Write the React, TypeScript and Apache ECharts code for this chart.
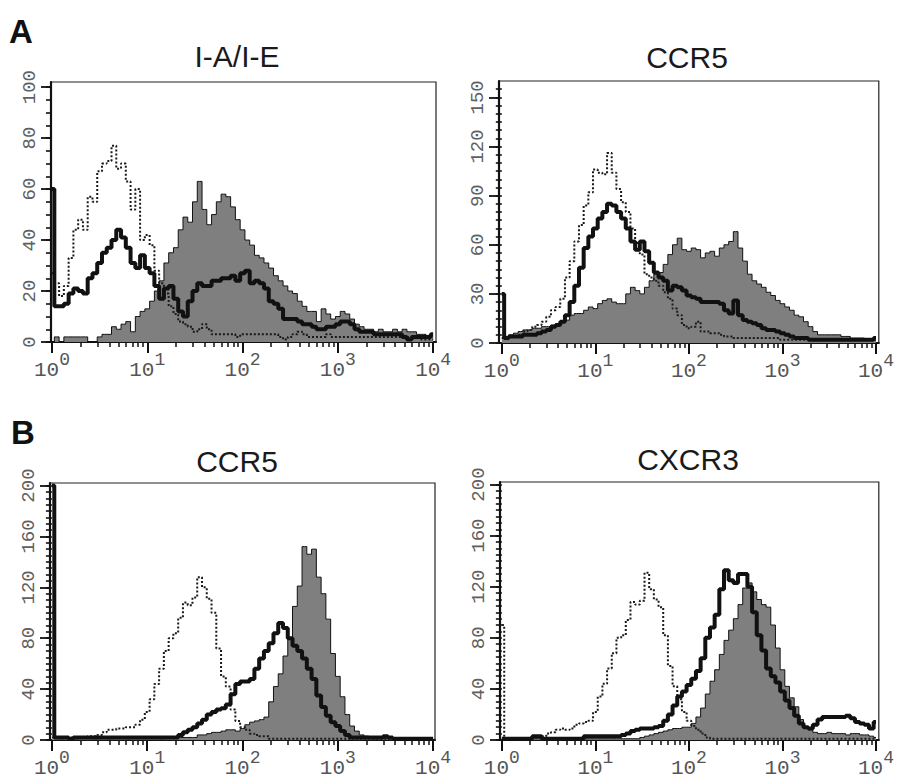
import React, { useEffect, useRef } from 'react';
import * as echarts from 'echarts';

// log10 fluorescence channel positions (10^0 .. 10^4)
const BINS = [0, 0.05, 0.1, 0.15, 0.2, 0.25, 0.3, 0.35, 0.4, 0.45, 0.5, 0.55, 0.6, 0.65, 0.7, 0.75, 0.8, 0.85, 0.9, 0.95, 1, 1.05, 1.1, 1.15, 1.2, 1.25, 1.3, 1.35, 1.4, 1.45, 1.5, 1.55, 1.6, 1.65, 1.7, 1.75, 1.8, 1.85, 1.9, 1.95, 2, 2.05, 2.1, 2.15, 2.2, 2.25, 2.3, 2.35, 2.4, 2.45, 2.5, 2.55, 2.6, 2.65, 2.7, 2.75, 2.8, 2.85, 2.9, 2.95, 3, 3.05, 3.1, 3.15, 3.2, 3.25, 3.3, 3.35, 3.4, 3.45, 3.5, 3.55, 3.6, 3.65, 3.7, 3.75, 3.8, 3.85, 3.9, 3.95, 4];

const X_DECADES = [0, 1, 2, 3, 4];

// Panel A – I-A/I-E
const A1_GRAY = [0,2,0,2,2,2,2,2,0,0, 2,3,3,6,5,7,8,4,10,12, 13,16,20,24,31,35,37,44,49,47, 55,63,52,46,50,55,58,57,53,48, 44,40,38,34,33,31,29,26,24,22, 20,19,16,14,12,12,8,13,11,9, 10,12,11,9,7,6,5,5,4,5, 4,4,5,4,5,4,4,3,3,2, 2];
const A1_THICK = [60,14,14,15,19,21,20,19,25,27, 31,35,37,40,44,41,37,31,29,34, 29,27,22,17,21,22,17,12,10,16, 20,23,22,22,24,24,25,25,26,24, 27,28,23,24,23,21,16,15,13,9, 9,9,8,7,7,6,5,5,6,6, 7,8,8,7,5,4,4,4,3,3, 3,3,3,3,2,1,2,2,2,2, 3];
const A1_DOTTED = [27,23,18,22,33,44,48,44,57,55, 67,70,71,77,68,70,63,52,60,40, 42,38,28,23,19,14,11,8,7,6, 4,5,7,5,3,3,3,3,3,2, 3,3,3,3,3,3,3,3,2,1, 2,3,4,3,2,2,2,2,3,2, 2,2,2,2,2,2,2,2,2,2, 2,2,2,2,2,2,2,2,1,1, 1];
const A1_Y_LABELS = [0, 20, 40, 60, 80, 100];

// Panel A – CCR5
const A2_GRAY = [3,4,5,6,7,8,8,9,9,10, 10,11,11,13,14,17,18,18,20,22, 21,24,26,27,25,24,24,30,34,32, 30,34,38,42,43,48,54,60,64,57, 56,58,57,52,55,56,53,58,60,62, 68,58,50,42,38,36,34,31,29,26, 24,22,20,17,16,13,10,7,5,5, 5,5,5,4,4,3,3,3,2,2, 2];
const A2_THICK = [30,3,4,4,4,5,5,5,6,7, 8,10,11,13,17,25,35,46,58,65, 70,76,80,85,84,80,76,70,62,57, 62,56,49,43,40,38,32,35,34,32, 29,28,27,25,25,25,25,24,20,18, 26,17,14,13,12,11,9,8,8,7, 6,5,4,3,3,3,2,2,2,2, 2,2,2,2,2,2,2,2,2,2, 3];
const A2_DOTTED = [3,4,4,4,5,7,8,10,11,13, 16,20,22,27,40,50,62,72,84,92, 106,104,103,116,104,94,86,80,70,61, 54,42,40,38,35,31,27,21,17,11, 9,10,13,7,7,6,6,5,4,4, 3,3,3,3,3,3,3,3,3,3, 2,2,2,2,2,2,2,2,2,2, 2,2,2,2,2,2,2,2,2,2, 2];
const A2_Y_LABELS = [0, 30, 60, 90, 120, 150];

// Panel B – CCR5
const B1_GRAY = [2,2,1,2,2,1,2,2,2,1, 2,2,1,2,2,2,1,2,2,2, 2,2,2,1,2,2,2,2,2,2, 2,4,4,5,6,6,7,8,8,7, 9,12,14,15,16,18,30,42,52,66, 80,105,121,152,146,150,128,115,95,68, 50,34,20,11,7,4,3,2,1,1, 1,1,1,1,1,1,1,1,1,1, 1];
const B1_THICK = [200,2,2,2,1,2,2,2,2,2, 2,2,2,2,2,2,2,2,2,2, 2,2,2,2,2,2,2,4,6,8, 10,13,16,20,22,24,25,28,36,44, 46,46,48,56,64,70,76,84,92,88, 80,74,70,64,56,48,35,26,19,14, 11,7,4,2,2,2,2,2,2,2, 3,2,1,1,1,1,1,1,1,1, 1];
const B1_DOTTED = [100,2,2,2,2,2,2,2,3,3, 4,6,8,8,9,9,10,10,12,16, 22,32,44,56,70,80,84,96,108,106, 112,128,120,111,100,72,50,42,24,15, 10,8,5,4,3,3,1,1,1,1, 1,1,1,1,1,1,1,1,1,1, 1,1,1,1,1,1,1,1,1,1, 1,1,1,1,1,1,1,1,1,1, 1];

// Panel B – CXCR3
const B2_GRAY = [1,1,1,1,1,1,1,1,1,1, 1,1,1,1,1,1,1,1,1,1, 1,1,1,1,1,1,1,1,1,1, 2,3,4,5,6,7,8,9,9,10, 10,13,18,25,36,46,55,67,78,86, 95,106,119,123,116,110,106,104,90,72, 55,42,33,26,16,10,8,6,5,5, 6,5,5,5,4,5,5,4,4,3, 2];
const B2_THICK = [1,1,1,1,1,1,1,3,3,1, 1,1,1,1,1,1,1,1,3,3, 3,3,3,3,3,3,4,5,7,8, 9,9,9,10,11,15,20,27,34,38, 43,48,54,64,80,88,98,118,133,125, 123,130,130,120,100,82,70,56,50,45, 38,31,25,19,13,10,9,12,16,18, 18,18,18,18,19,17,14,13,12,9, 14];
const B2_DOTTED = [90,1,1,1,1,1,1,2,2,3, 5,6,8,9,8,9,12,13,14,15, 22,34,44,56,68,80,82,94,108,106, 109,131,118,110,104,82,58,42,32,22, 15,11,8,5,2,1,1,1,1,1, 1,1,1,1,1,1,1,1,1,1, 1,1,1,1,1,1,1,1,1,1, 1,1,1,1,1,1,1,1,1,1, 1];
const B_Y_LABELS = [0, 40, 80, 120, 160, 200];

const MONO = '"Liberation Mono", "Courier New", monospace';
const SANS = '"Liberation Sans", Arial, sans-serif';
const INK = '#111';

type Panel = {
  title: string;
  gray: number[];
  thick: number[];
  dotted: number[];
  yLabels: number[];
  yMax: number;
  minorMax: number;
  layout: { left: number; top: number; width: number; height: number; xMin: number; xMax: number; tx: number; ty: number };
};

const PANELS: Panel[] = [
  { title: 'I-A/I-E', gray: A1_GRAY, thick: A1_THICK, dotted: A1_DOTTED, yLabels: A1_Y_LABELS, yMax: 102, minorMax: 100,
    layout: { left: 51, top: 82, width: 385, height: 260, xMin: -0.01, xMax: 4.03, tx: 237, ty: 56 } },
  { title: 'CCR5', gray: A2_GRAY, thick: A2_THICK, dotted: A2_DOTTED, yLabels: A2_Y_LABELS, yMax: 160, minorMax: 155,
    layout: { left: 499, top: 81, width: 387, height: 262, xMin: -0.03, xMax: 4.03, tx: 687, ty: 57 } },
  { title: 'CCR5', gray: B1_GRAY, thick: B1_THICK, dotted: B1_DOTTED, yLabels: B_Y_LABELS, yMax: 202, minorMax: 200,
    layout: { left: 50, top: 483, width: 385, height: 260, xMin: -0.02, xMax: 4.02, tx: 237, ty: 461 } },
  { title: 'CXCR3', gray: B2_GRAY, thick: B2_THICK, dotted: B2_DOTTED, yLabels: B_Y_LABELS, yMax: 202, minorMax: 200,
    layout: { left: 500, top: 482, width: 386, height: 260, xMin: -0.02, xMax: 4.03, tx: 688, ty: 459 } },
];

function minorXTicks(): number[] {
  const out: number[] = [];
  for (let d = 0; d < 4; d++) for (let m = 2; m <= 9; m++) out.push(d + Math.log10(m));
  return out;
}
function minorYTicks(max: number): number[] {
  const out: number[] = [];
  for (let v = 0; v <= max; v += 5) out.push(v);
  return out;
}

function buildOption() {
  const grid: any[] = [];
  const xAxis: any[] = [];
  const yAxis: any[] = [];
  const series: any[] = [];
  const graphic: any[] = [];
  const minorX = minorXTicks();

  PANELS.forEach((p, i) => {
    const L = p.layout;
    grid.push({ left: L.left, top: L.top, width: L.width, height: L.height, show: true, borderColor: '#222', borderWidth: 1.2, backgroundColor: '#fff' });
    xAxis.push({
      gridIndex: i, type: 'value', min: L.xMin, max: L.xMax, position: 'bottom',
      axisLine: { show: true, onZero: false, lineStyle: { color: INK, width: 2 } },
      axisTick: { show: true, customValues: X_DECADES, length: 11, lineStyle: { color: INK, width: 2 } },
      axisLabel: {
        show: true, customValues: X_DECADES, margin: 9,
        formatter: (v: number) => `{b|10}{s|${Math.round(v)}}`,
        rich: {
          b: { fontFamily: MONO, fontSize: 21, color: '#555', verticalAlign: 'bottom' },
          s: { fontFamily: MONO, fontSize: 18, color: '#555', verticalAlign: 'bottom', padding: [0, 0, 12, 0] },
        },
      },
      splitLine: { show: false },
    });
    xAxis.push({
      gridIndex: i, type: 'value', min: L.xMin, max: L.xMax, position: 'bottom', offset: 0,
      axisLine: { show: false },
      axisTick: { show: true, customValues: minorX, length: 5, lineStyle: { color: INK, width: 1.5 } },
      axisLabel: { show: false },
      splitLine: { show: false },
    });
    yAxis.push({
      gridIndex: i, type: 'value', min: 0, max: p.yMax, position: 'left',
      axisLine: { show: true, onZero: false, lineStyle: { color: INK, width: 2.2 } },
      axisTick: { show: true, customValues: p.yLabels, length: 10, lineStyle: { color: INK, width: 1.8 } },
      axisLabel: { show: true, customValues: p.yLabels, rotate: 90, margin: 12, fontFamily: MONO, fontSize: 19, color: '#606060' },
      splitLine: { show: false },
    });
    yAxis.push({
      gridIndex: i, type: 'value', min: 0, max: p.yMax, position: 'left', offset: 0,
      axisLine: { show: false },
      axisTick: { show: true, customValues: minorYTicks(p.minorMax), length: 6, lineStyle: { color: INK, width: 1.6 } },
      axisLabel: { show: false },
      splitLine: { show: false },
    });

    const toPairs = (arr: number[]) => BINS.map((b, k) => [b, arr[k]]);
    series.push({
      type: 'line', xAxisIndex: 2 * i, yAxisIndex: 2 * i, step: 'middle', showSymbol: false, symbol: 'none',
      data: toPairs(p.gray), z: 2,
      lineStyle: { color: INK, width: 1 }, areaStyle: { color: '#7f7f7f', opacity: 1 },
    });
    series.push({
      type: 'line', xAxisIndex: 2 * i, yAxisIndex: 2 * i, step: 'middle', showSymbol: false, symbol: 'none',
      data: toPairs(p.dotted), z: 3,
      lineStyle: { color: '#1a1a1a', width: 2, type: [2, 2] },
    });
    series.push({
      type: 'line', xAxisIndex: 2 * i, yAxisIndex: 2 * i, step: 'middle', showSymbol: false, symbol: 'none',
      data: toPairs(p.thick), z: 4,
      lineStyle: { color: INK, width: 4 },
    });

    graphic.push({
      type: 'text', x: L.tx, y: L.ty,
      style: { text: p.title, font: `normal 30px ${SANS}`, fill: '#1a1a1a', textAlign: 'center', textVerticalAlign: 'middle' },
    });
  });

  graphic.push({ type: 'text', x: 9, y: 31, style: { text: 'A', font: `bold 33px ${SANS}`, fill: '#111', textAlign: 'left', textVerticalAlign: 'middle' } });
  graphic.push({ type: 'text', x: 11, y: 432, style: { text: 'B', font: `bold 33px ${SANS}`, fill: '#111', textAlign: 'left', textVerticalAlign: 'middle' } });

  return { animation: false, backgroundColor: '#fff', grid, xAxis, yAxis, series, graphic };
}

export default function App() {
  const ref = useRef<HTMLDivElement>(null);
  useEffect(() => {
    if (!ref.current) return;
    const chart = echarts.init(ref.current, undefined, { renderer: 'svg' });
    chart.setOption(buildOption() as any);
    return () => chart.dispose();
  }, []);
  return <div ref={ref} style={{ position: 'absolute', left: 0, top: 0, width: 897, height: 779, background: '#fff' }} />;
}
